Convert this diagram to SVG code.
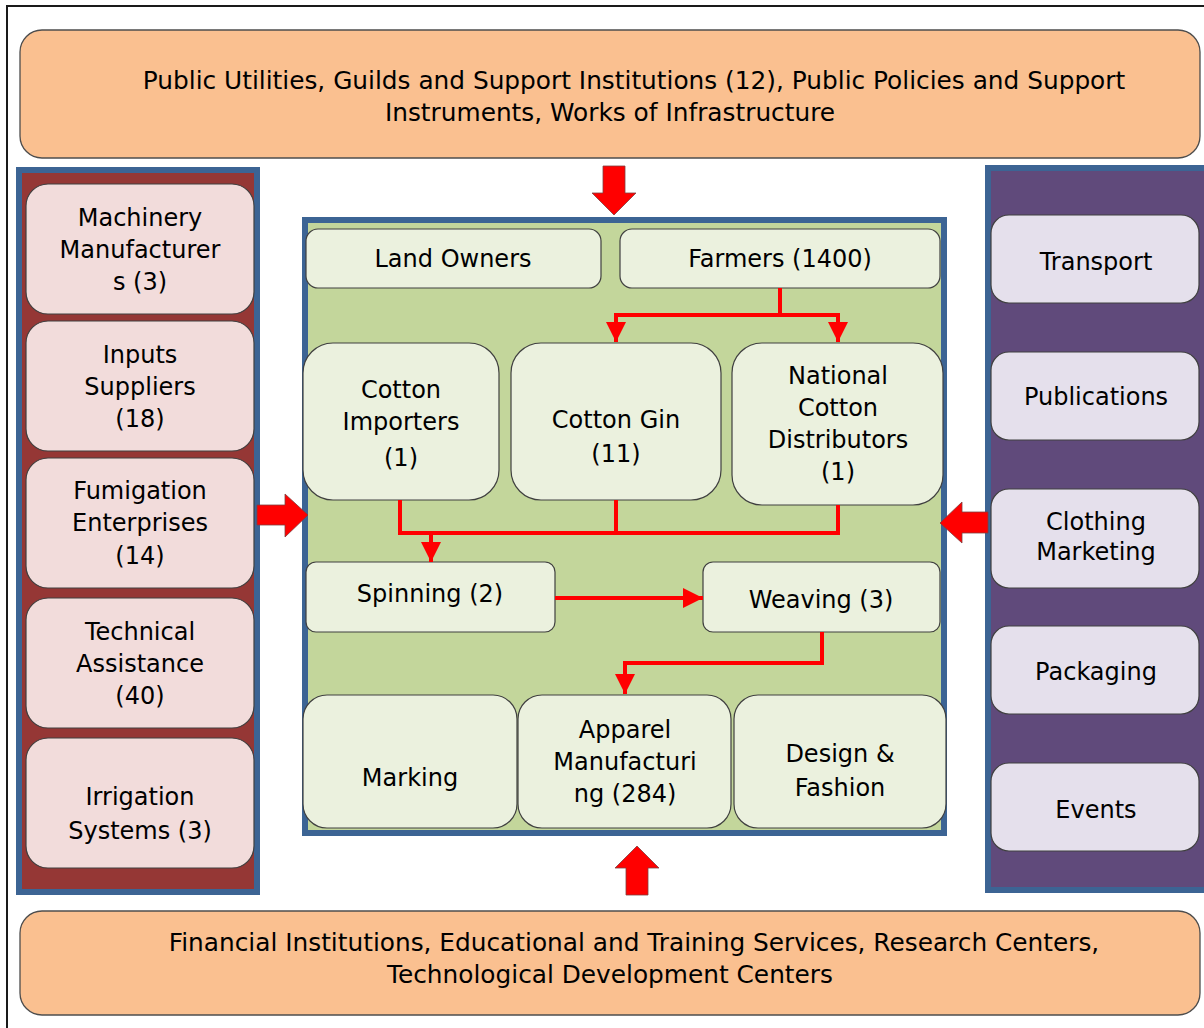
<svg xmlns="http://www.w3.org/2000/svg" width="1204" height="1028" viewBox="0 0 1204 1028">
<defs>
<style>
text{font-family:"DejaVu Sans","Liberation Sans",sans-serif;font-size:24px;fill:#000;text-anchor:middle}
.big{font-size:24.8px}
.orange{fill:#FAC090;stroke:#4d4d4d;stroke-width:1.3}
.gnode{fill:#EBF1DE;stroke:#404040;stroke-width:1.2}
.pnode{fill:#F2DCDB;stroke:#404040;stroke-width:1.2}
.lnode{fill:#E5E0EC;stroke:#404040;stroke-width:1.2}
.panel{stroke:#3C6494;stroke-width:6}
.conn{fill:none;stroke:#FF0000;stroke-width:4}
.block{fill:#FF0000;stroke:#7F3F3F;stroke-width:0.8}
</style>
<marker id="ah" viewBox="0 0 20 20" refX="20" refY="10" markerWidth="20" markerHeight="20" markerUnits="userSpaceOnUse" orient="auto">
<path d="M0,0 L20,10 L0,20 Z" fill="#FF0000"/>
</marker>
</defs>
<rect x="7" y="6" width="1215" height="1040" fill="#fff" stroke="#1a1a1a" stroke-width="2"/>

<g id="top-banner">
<rect class="orange" x="20" y="30" width="1180" height="128" rx="22"/>
<text class="big" x="634" y="89">Public Utilities, Guilds and Support Institutions (12), Public Policies and Support</text>
<text class="big" x="610" y="121">Instruments, Works of Infrastructure</text>
</g>
<g id="bottom-banner">
<rect class="orange" x="20" y="911" width="1180" height="104" rx="22"/>
<text class="big" x="634" y="951">Financial Institutions, Educational and Training Services, Research Centers,</text>
<text class="big" x="610" y="983">Technological Development Centers</text>
</g>

<g id="left-panel">
<rect class="panel" x="19" y="170" width="238" height="722" fill="#953735"/>
</g>
<g id="machinery"><rect class="pnode" x="26" y="184" width="228" height="130" rx="22"/><text x="140" y="226">Machinery</text><text x="140" y="258">Manufacturer</text><text x="140" y="290">s (3)</text></g>
<g id="inputs"><rect class="pnode" x="26" y="321" width="228" height="130" rx="22"/><text x="140" y="363">Inputs</text><text x="140" y="395">Suppliers</text><text x="140" y="427">(18)</text></g>
<g id="fumigation"><rect class="pnode" x="26" y="458" width="228" height="130" rx="22"/><text x="140" y="499">Fumigation</text><text x="140" y="531">Enterprises</text><text x="140" y="564">(14)</text></g>
<g id="technical"><rect class="pnode" x="26" y="598" width="228" height="130" rx="22"/><text x="140" y="640">Technical</text><text x="140" y="672">Assistance</text><text x="140" y="704">(40)</text></g>
<g id="irrigation"><rect class="pnode" x="26" y="738" width="228" height="130" rx="22"/><text x="140" y="805">Irrigation</text><text x="140" y="839">Systems (3)</text></g>

<g id="right-panel">
<rect class="panel" x="988" y="168" width="220" height="722" fill="#604A7B"/>
</g>
<g id="transport"><rect class="lnode" x="991" y="215" width="208" height="88" rx="18"/><text x="1096" y="270">Transport</text></g>
<g id="publications"><rect class="lnode" x="991" y="352" width="208" height="88" rx="18"/><text x="1096" y="405">Publications</text></g>
<g id="clothing"><rect class="lnode" x="991" y="489" width="208" height="99" rx="18"/><text x="1096" y="530">Clothing</text><text x="1096" y="560">Marketing</text></g>
<g id="packaging"><rect class="lnode" x="991" y="626" width="208" height="88" rx="18"/><text x="1096" y="680">Packaging</text></g>
<g id="events"><rect class="lnode" x="991" y="763" width="208" height="88" rx="18"/><text x="1096" y="818">Events</text></g>

<g id="center-panel">
<rect class="panel" x="305" y="220" width="639" height="613" fill="#C3D69B"/>
</g>
<g id="land-owners"><rect class="gnode" x="306" y="229" width="295" height="59" rx="12"/><text x="453" y="267">Land Owners</text></g>
<g id="farmers"><rect class="gnode" x="620" y="229" width="320" height="59" rx="12"/><text x="780" y="267">Farmers (1400)</text></g>
<g id="cotton-importers"><rect class="gnode" x="303" y="343" width="196" height="157" rx="30"/><text x="401" y="398">Cotton</text><text x="401" y="430">Importers</text><text x="401" y="466">(1)</text></g>
<g id="cotton-gin"><rect class="gnode" x="511" y="343" width="210" height="157" rx="30"/><text x="616" y="428">Cotton Gin</text><text x="616" y="462">(11)</text></g>
<g id="national-cotton"><rect class="gnode" x="732" y="343" width="211" height="162" rx="30"/><text x="838" y="384">National</text><text x="838" y="416">Cotton</text><text x="838" y="448">Distributors</text><text x="838" y="480">(1)</text></g>
<g id="spinning"><rect class="gnode" x="306" y="562" width="249" height="70" rx="10"/><text x="430" y="602">Spinning (2)</text></g>
<g id="weaving"><rect class="gnode" x="703" y="562" width="237" height="70" rx="10"/><text x="821" y="608">Weaving (3)</text></g>
<g id="marking"><rect class="gnode" x="303" y="695" width="214" height="133" rx="24"/><text x="410" y="786">Marking</text></g>
<g id="apparel"><rect class="gnode" x="518" y="695" width="213" height="133" rx="24"/><text x="625" y="738">Apparel</text><text x="625" y="770">Manufacturi</text><text x="625" y="802">ng (284)</text></g>
<g id="design"><rect class="gnode" x="734" y="695" width="212" height="133" rx="24"/><text x="840" y="762">Design &amp;</text><text x="840" y="796">Fashion</text></g>

<g id="connectors">
<path class="conn" d="M780,288 V315 H616 V342" marker-end="url(#ah)"/>
<path class="conn" d="M780,315 H838 V342" marker-end="url(#ah)"/>
<path class="conn" d="M400,500 V533 H838 V505"/>
<path class="conn" d="M616,500 V533"/>
<path class="conn" d="M431,533 V562" marker-end="url(#ah)"/>
<path class="conn" d="M555,598 H703" marker-end="url(#ah)"/>
<path class="conn" d="M822,632 V663 H625 V694" marker-end="url(#ah)"/>
<polygon class="block" points="603,166 625,166 625,193 636,193 614,215 592,193 603,193"/>
<polygon class="block" points="626,895 648,895 648,868 659,868 637,846 615,868 626,868"/>
<polygon class="block" points="257,505 285,505 285,494 308,515 285,537 285,525 257,525"/>
<polygon class="block" points="988,512 962,512 962,502 940,523 962,543 962,533 988,533"/>
</g>
</svg>
